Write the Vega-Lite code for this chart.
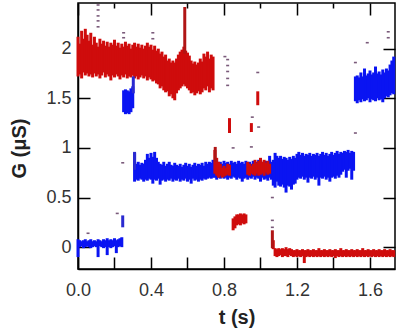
{
"$schema": "https://vega.github.io/schema/vega-lite/v6.json",
"width": 317, "height": 266,
"autosize": {"type": "none"},
"padding": {"left": 78, "top": 3, "right": 5, "bottom": 64},
"config": {"view": {"stroke": "black", "strokeWidth": 1.5}},
"data": {"values": [
    {"s":"blue","t":0.00,"lo":-0.10,"hi":0.08},{"s":"blue","t":0.01,"lo":0.00,"hi":0.07},{"s":"blue","t":0.02,"lo":0.01,"hi":0.06},{"s":"blue","t":0.03,"lo":-0.01,"hi":0.07},{"s":"blue","t":0.04,"lo":0.00,"hi":0.08},
    {"s":"blue","t":0.05,"lo":0.01,"hi":0.06},{"s":"blue","t":0.06,"lo":0.00,"hi":0.07},{"s":"blue","t":0.07,"lo":-0.01,"hi":0.08},{"s":"blue","t":0.08,"lo":0.00,"hi":0.06},{"s":"blue","t":0.09,"lo":0.01,"hi":0.07},
    {"s":"blue","t":0.10,"lo":0.00,"hi":0.06},{"s":"blue","t":0.11,"lo":-0.10,"hi":0.08},{"s":"blue","t":0.12,"lo":0.01,"hi":0.07},{"s":"blue","t":0.13,"lo":0.00,"hi":0.06},{"s":"blue","t":0.14,"lo":-0.01,"hi":0.08},
    {"s":"blue","t":0.15,"lo":0.00,"hi":0.07},{"s":"blue","t":0.16,"lo":-0.08,"hi":0.09},{"s":"blue","t":0.17,"lo":0.00,"hi":0.07},{"s":"blue","t":0.18,"lo":-0.01,"hi":0.08},{"s":"blue","t":0.19,"lo":0.00,"hi":0.07},
    {"s":"blue","t":0.20,"lo":0.01,"hi":0.09},{"s":"blue","t":0.21,"lo":-0.06,"hi":0.07},{"s":"blue","t":0.22,"lo":0.00,"hi":0.08},{"s":"blue","t":0.23,"lo":0.01,"hi":0.09},{"s":"blue","t":0.24,"lo":0.00,"hi":0.10},
    {"s":"blue","t":0.25,"lo":1.36,"hi":1.58},{"s":"blue","t":0.26,"lo":1.34,"hi":1.59},{"s":"blue","t":0.27,"lo":1.35,"hi":1.58},{"s":"blue","t":0.28,"lo":1.34,"hi":1.57},{"s":"blue","t":0.29,"lo":1.36,"hi":1.60},{"s":"blue","t":0.30,"lo":1.40,"hi":1.62},
    {"s":"blue","t":0.31,"lo":0.66,"hi":0.95},{"s":"blue","t":0.32,"lo":0.68,"hi":0.84},{"s":"blue","t":0.33,"lo":0.67,"hi":0.86},{"s":"blue","t":0.34,"lo":0.69,"hi":0.83},{"s":"blue","t":0.35,"lo":0.68,"hi":0.85},
    {"s":"blue","t":0.36,"lo":0.66,"hi":0.84},{"s":"blue","t":0.37,"lo":0.68,"hi":0.88},{"s":"blue","t":0.38,"lo":0.67,"hi":0.94},{"s":"blue","t":0.39,"lo":0.69,"hi":0.90},{"s":"blue","t":0.40,"lo":0.68,"hi":0.95},
    {"s":"blue","t":0.41,"lo":0.64,"hi":0.91},{"s":"blue","t":0.42,"lo":0.68,"hi":0.96},{"s":"blue","t":0.43,"lo":0.67,"hi":0.90},{"s":"blue","t":0.44,"lo":0.69,"hi":0.86},{"s":"blue","t":0.45,"lo":0.63,"hi":0.84},
    {"s":"blue","t":0.46,"lo":0.67,"hi":0.83},{"s":"blue","t":0.47,"lo":0.68,"hi":0.86},{"s":"blue","t":0.48,"lo":0.66,"hi":0.82},{"s":"blue","t":0.49,"lo":0.68,"hi":0.84},{"s":"blue","t":0.50,"lo":0.67,"hi":0.86},
    {"s":"blue","t":0.51,"lo":0.69,"hi":0.83},{"s":"blue","t":0.52,"lo":0.66,"hi":0.82},{"s":"blue","t":0.53,"lo":0.68,"hi":0.85},{"s":"blue","t":0.54,"lo":0.67,"hi":0.83},{"s":"blue","t":0.55,"lo":0.69,"hi":0.82},
    {"s":"blue","t":0.56,"lo":0.66,"hi":0.84},{"s":"blue","t":0.57,"lo":0.68,"hi":0.81},{"s":"blue","t":0.58,"lo":0.67,"hi":0.83},{"s":"blue","t":0.59,"lo":0.69,"hi":0.85},{"s":"blue","t":0.60,"lo":0.66,"hi":0.82},
    {"s":"blue","t":0.61,"lo":0.68,"hi":0.84},{"s":"blue","t":0.62,"lo":0.64,"hi":0.81},{"s":"blue","t":0.63,"lo":0.69,"hi":0.83},{"s":"blue","t":0.64,"lo":0.67,"hi":0.85},{"s":"blue","t":0.65,"lo":0.68,"hi":0.82},
    {"s":"blue","t":0.66,"lo":0.66,"hi":0.84},{"s":"blue","t":0.67,"lo":0.68,"hi":0.83},{"s":"blue","t":0.68,"lo":0.67,"hi":0.85},{"s":"blue","t":0.69,"lo":0.69,"hi":0.82},{"s":"blue","t":0.70,"lo":0.68,"hi":0.86},
    {"s":"blue","t":0.71,"lo":0.69,"hi":0.84},{"s":"blue","t":0.72,"lo":0.70,"hi":0.86},{"s":"blue","t":0.73,"lo":0.69,"hi":0.85},{"s":"blue","t":0.74,"lo":0.70,"hi":0.88},{"s":"blue","t":0.75,"lo":0.70,"hi":0.86},
    {"s":"blue","t":0.76,"lo":0.68,"hi":0.87},{"s":"blue","t":0.77,"lo":0.70,"hi":0.85},{"s":"blue","t":0.78,"lo":0.69,"hi":0.86},{"s":"blue","t":0.79,"lo":0.71,"hi":0.84},{"s":"blue","t":0.80,"lo":0.69,"hi":0.87},
    {"s":"blue","t":0.81,"lo":0.70,"hi":0.85},{"s":"blue","t":0.82,"lo":0.68,"hi":0.86},{"s":"blue","t":0.83,"lo":0.70,"hi":0.84},{"s":"blue","t":0.84,"lo":0.69,"hi":0.87},{"s":"blue","t":0.85,"lo":0.71,"hi":0.85},
    {"s":"blue","t":0.86,"lo":0.70,"hi":0.86},{"s":"blue","t":0.87,"lo":0.68,"hi":0.84},{"s":"blue","t":0.88,"lo":0.70,"hi":0.87},{"s":"blue","t":0.89,"lo":0.69,"hi":0.85},{"s":"blue","t":0.90,"lo":0.66,"hi":0.86},
    {"s":"blue","t":0.91,"lo":0.69,"hi":0.84},{"s":"blue","t":0.92,"lo":0.70,"hi":0.87},{"s":"blue","t":0.93,"lo":0.68,"hi":0.85},{"s":"blue","t":0.94,"lo":0.70,"hi":0.86},{"s":"blue","t":0.95,"lo":0.69,"hi":0.84},
    {"s":"blue","t":0.96,"lo":0.71,"hi":0.87},{"s":"blue","t":0.97,"lo":0.68,"hi":0.85},{"s":"blue","t":0.98,"lo":0.70,"hi":0.86},{"s":"blue","t":0.99,"lo":0.69,"hi":0.88},{"s":"blue","t":1.00,"lo":0.66,"hi":0.85},
    {"s":"blue","t":1.01,"lo":0.70,"hi":0.86},{"s":"blue","t":1.02,"lo":0.68,"hi":0.84},{"s":"blue","t":1.03,"lo":0.69,"hi":0.87},{"s":"blue","t":1.04,"lo":0.67,"hi":0.85},{"s":"blue","t":1.05,"lo":0.70,"hi":0.92},
    {"s":"blue","t":1.06,"lo":0.68,"hi":0.86},{"s":"blue","t":1.07,"lo":0.62,"hi":0.88},{"s":"blue","t":1.08,"lo":0.60,"hi":0.95},{"s":"blue","t":1.09,"lo":0.66,"hi":0.92},{"s":"blue","t":1.10,"lo":0.62,"hi":0.90},
    {"s":"blue","t":1.11,"lo":0.61,"hi":0.92},{"s":"blue","t":1.12,"lo":0.63,"hi":0.89},{"s":"blue","t":1.13,"lo":0.60,"hi":0.91},{"s":"blue","t":1.14,"lo":0.55,"hi":0.90},{"s":"blue","t":1.15,"lo":0.62,"hi":0.88},
    {"s":"blue","t":1.16,"lo":0.61,"hi":0.91},{"s":"blue","t":1.17,"lo":0.58,"hi":0.89},{"s":"blue","t":1.18,"lo":0.63,"hi":0.92},{"s":"blue","t":1.19,"lo":0.64,"hi":0.90},{"s":"blue","t":1.20,"lo":0.68,"hi":0.94},
    {"s":"blue","t":1.21,"lo":0.70,"hi":0.96},{"s":"blue","t":1.22,"lo":0.69,"hi":0.93},{"s":"blue","t":1.23,"lo":0.71,"hi":0.95},{"s":"blue","t":1.24,"lo":0.68,"hi":0.92},{"s":"blue","t":1.25,"lo":0.70,"hi":0.94},
    {"s":"blue","t":1.26,"lo":0.65,"hi":0.93},{"s":"blue","t":1.27,"lo":0.70,"hi":0.95},{"s":"blue","t":1.28,"lo":0.69,"hi":0.92},{"s":"blue","t":1.29,"lo":0.71,"hi":0.94},{"s":"blue","t":1.30,"lo":0.68,"hi":0.93},
    {"s":"blue","t":1.31,"lo":0.70,"hi":0.95},{"s":"blue","t":1.32,"lo":0.62,"hi":0.92},{"s":"blue","t":1.33,"lo":0.70,"hi":0.94},{"s":"blue","t":1.34,"lo":0.69,"hi":0.96},{"s":"blue","t":1.35,"lo":0.71,"hi":0.93},
    {"s":"blue","t":1.36,"lo":0.68,"hi":0.95},{"s":"blue","t":1.37,"lo":0.70,"hi":0.92},{"s":"blue","t":1.38,"lo":0.66,"hi":0.94},{"s":"blue","t":1.39,"lo":0.70,"hi":0.96},{"s":"blue","t":1.40,"lo":0.71,"hi":0.93},
    {"s":"blue","t":1.41,"lo":0.69,"hi":0.95},{"s":"blue","t":1.42,"lo":0.72,"hi":0.97},{"s":"blue","t":1.43,"lo":0.70,"hi":0.94},{"s":"blue","t":1.44,"lo":0.73,"hi":0.96},{"s":"blue","t":1.45,"lo":0.76,"hi":0.95},
    {"s":"blue","t":1.46,"lo":0.78,"hi":0.97},{"s":"blue","t":1.47,"lo":0.70,"hi":0.96},{"s":"blue","t":1.48,"lo":0.77,"hi":0.98},{"s":"blue","t":1.49,"lo":0.79,"hi":0.95},{"s":"blue","t":1.50,"lo":0.68,"hi":0.97},
    {"s":"blue","t":1.51,"lo":0.77,"hi":0.96},
    {"s":"blue","t":1.52,"lo":1.47,"hi":1.72},{"s":"blue","t":1.53,"lo":1.45,"hi":1.73},{"s":"blue","t":1.54,"lo":1.48,"hi":1.71},{"s":"blue","t":1.55,"lo":1.46,"hi":1.76},{"s":"blue","t":1.56,"lo":1.49,"hi":1.72},
    {"s":"blue","t":1.57,"lo":1.47,"hi":1.80},{"s":"blue","t":1.58,"lo":1.48,"hi":1.73},{"s":"blue","t":1.59,"lo":1.50,"hi":1.75},{"s":"blue","t":1.60,"lo":1.46,"hi":1.78},{"s":"blue","t":1.61,"lo":1.49,"hi":1.74},
    {"s":"blue","t":1.62,"lo":1.48,"hi":1.76},{"s":"blue","t":1.63,"lo":1.47,"hi":1.82},{"s":"blue","t":1.64,"lo":1.50,"hi":1.75},{"s":"blue","t":1.65,"lo":1.48,"hi":1.77},{"s":"blue","t":1.66,"lo":1.49,"hi":1.74},
    {"s":"blue","t":1.67,"lo":1.46,"hi":1.79},{"s":"blue","t":1.68,"lo":1.50,"hi":1.76},{"s":"blue","t":1.69,"lo":1.52,"hi":1.80},{"s":"blue","t":1.70,"lo":1.51,"hi":1.78},{"s":"blue","t":1.71,"lo":1.53,"hi":1.84},
    {"s":"blue","t":1.72,"lo":1.55,"hi":1.88},{"s":"blue","t":1.73,"lo":1.54,"hi":1.92},
    {"s":"red","t":0.00,"lo":1.72,"hi":2.12},{"s":"red","t":0.01,"lo":1.74,"hi":2.05},{"s":"red","t":0.02,"lo":1.70,"hi":2.18},{"s":"red","t":0.03,"lo":1.76,"hi":2.10},{"s":"red","t":0.04,"lo":1.73,"hi":2.20},
    {"s":"red","t":0.05,"lo":1.75,"hi":2.14},{"s":"red","t":0.06,"lo":1.72,"hi":2.08},{"s":"red","t":0.07,"lo":1.74,"hi":2.16},{"s":"red","t":0.08,"lo":1.71,"hi":2.04},{"s":"red","t":0.09,"lo":1.75,"hi":2.12},
    {"s":"red","t":0.10,"lo":1.72,"hi":2.06},{"s":"red","t":0.11,"lo":1.74,"hi":2.02},{"s":"red","t":0.12,"lo":1.70,"hi":2.10},{"s":"red","t":0.13,"lo":1.73,"hi":2.05},{"s":"red","t":0.14,"lo":1.76,"hi":2.08},
    {"s":"red","t":0.15,"lo":1.71,"hi":2.03},{"s":"red","t":0.16,"lo":1.74,"hi":2.07},{"s":"red","t":0.17,"lo":1.72,"hi":2.02},{"s":"red","t":0.18,"lo":1.68,"hi":2.06},{"s":"red","t":0.19,"lo":1.73,"hi":2.04},
    {"s":"red","t":0.20,"lo":1.71,"hi":2.09},{"s":"red","t":0.21,"lo":1.74,"hi":2.03},{"s":"red","t":0.22,"lo":1.72,"hi":2.06},{"s":"red","t":0.23,"lo":1.69,"hi":2.01},{"s":"red","t":0.24,"lo":1.73,"hi":2.05},
    {"s":"red","t":0.25,"lo":1.71,"hi":2.02},{"s":"red","t":0.26,"lo":1.74,"hi":2.07},{"s":"red","t":0.27,"lo":1.70,"hi":2.03},{"s":"red","t":0.28,"lo":1.72,"hi":2.05},{"s":"red","t":0.29,"lo":1.71,"hi":2.00},
    {"s":"red","t":0.30,"lo":1.73,"hi":2.04},{"s":"red","t":0.31,"lo":1.70,"hi":2.06},{"s":"red","t":0.32,"lo":1.72,"hi":2.02},{"s":"red","t":0.33,"lo":1.69,"hi":2.05},{"s":"red","t":0.34,"lo":1.71,"hi":2.01},
    {"s":"red","t":0.35,"lo":1.73,"hi":2.04},{"s":"red","t":0.36,"lo":1.70,"hi":2.00},{"s":"red","t":0.37,"lo":1.72,"hi":2.03},{"s":"red","t":0.38,"lo":1.68,"hi":2.06},{"s":"red","t":0.39,"lo":1.71,"hi":2.02},
    {"s":"red","t":0.40,"lo":1.69,"hi":2.04},{"s":"red","t":0.41,"lo":1.67,"hi":1.99},{"s":"red","t":0.42,"lo":1.68,"hi":2.03},{"s":"red","t":0.43,"lo":1.65,"hi":1.98},{"s":"red","t":0.44,"lo":1.64,"hi":2.00},
    {"s":"red","t":0.45,"lo":1.60,"hi":1.95},{"s":"red","t":0.46,"lo":1.62,"hi":1.97},{"s":"red","t":0.47,"lo":1.58,"hi":1.92},{"s":"red","t":0.48,"lo":1.56,"hi":1.94},{"s":"red","t":0.49,"lo":1.57,"hi":1.88},
    {"s":"red","t":0.50,"lo":1.52,"hi":1.90},{"s":"red","t":0.51,"lo":1.54,"hi":1.86},{"s":"red","t":0.52,"lo":1.50,"hi":1.88},{"s":"red","t":0.53,"lo":1.48,"hi":1.86},{"s":"red","t":0.54,"lo":1.55,"hi":1.90},
    {"s":"red","t":0.55,"lo":1.58,"hi":1.94},{"s":"red","t":0.56,"lo":1.60,"hi":1.97},{"s":"red","t":0.57,"lo":1.62,"hi":1.99},{"s":"red","t":0.58,"lo":1.64,"hi":2.02},{"s":"red","t":0.59,"lo":1.62,"hi":1.98},
    {"s":"red","t":0.60,"lo":1.60,"hi":1.96},{"s":"red","t":0.61,"lo":1.58,"hi":1.93},{"s":"red","t":0.62,"lo":1.55,"hi":1.88},{"s":"red","t":0.63,"lo":1.56,"hi":1.85},{"s":"red","t":0.64,"lo":1.53,"hi":1.87},
    {"s":"red","t":0.65,"lo":1.55,"hi":1.84},{"s":"red","t":0.66,"lo":1.57,"hi":1.86},{"s":"red","t":0.67,"lo":1.54,"hi":1.90},{"s":"red","t":0.68,"lo":1.56,"hi":1.87},{"s":"red","t":0.69,"lo":1.60,"hi":1.95},
    {"s":"red","t":0.70,"lo":1.58,"hi":1.92},{"s":"red","t":0.71,"lo":1.62,"hi":1.97},{"s":"red","t":0.72,"lo":1.56,"hi":1.90},{"s":"red","t":0.73,"lo":1.60,"hi":1.94},{"s":"red","t":0.74,"lo":1.58,"hi":1.92},
    {"s":"red","t":0.75,"lo":0.74,"hi":0.98},{"s":"red","t":0.76,"lo":0.72,"hi":0.90},{"s":"red","t":0.77,"lo":0.70,"hi":0.86},{"s":"red","t":0.78,"lo":0.72,"hi":0.84},{"s":"red","t":0.79,"lo":0.70,"hi":0.80},
    {"s":"red","t":0.80,"lo":0.71,"hi":0.82},{"s":"red","t":0.81,"lo":0.72,"hi":0.80},{"s":"red","t":0.82,"lo":0.73,"hi":0.84},{"s":"red","t":0.83,"lo":0.72,"hi":0.83},
    {"s":"red","t":0.83,"lo":1.15,"hi":1.30},{"s":"red","t":0.95,"lo":1.16,"hi":1.25},{"s":"red","t":0.985,"lo":1.43,"hi":1.57},
    {"s":"red","t":0.85,"lo":0.17,"hi":0.29},{"s":"red","t":0.86,"lo":0.19,"hi":0.31},{"s":"red","t":0.87,"lo":0.22,"hi":0.33},{"s":"red","t":0.88,"lo":0.23,"hi":0.33},{"s":"red","t":0.89,"lo":0.22,"hi":0.34},
    {"s":"red","t":0.90,"lo":0.24,"hi":0.33},{"s":"red","t":0.91,"lo":0.23,"hi":0.34},{"s":"red","t":0.92,"lo":0.24,"hi":0.33},
    {"s":"red","t":0.93,"lo":0.73,"hi":0.86},{"s":"red","t":0.94,"lo":0.72,"hi":0.84},{"s":"red","t":0.95,"lo":0.74,"hi":0.82},{"s":"red","t":0.96,"lo":0.73,"hi":0.84},{"s":"red","t":0.97,"lo":0.72,"hi":0.88},
    {"s":"red","t":0.98,"lo":0.74,"hi":0.85},{"s":"red","t":0.99,"lo":0.72,"hi":0.87},{"s":"red","t":1.00,"lo":0.73,"hi":0.90},{"s":"red","t":1.01,"lo":0.74,"hi":0.86},{"s":"red","t":1.02,"lo":0.72,"hi":0.88},
    {"s":"red","t":1.03,"lo":0.75,"hi":0.85},{"s":"red","t":1.04,"lo":0.73,"hi":0.87},{"s":"red","t":1.05,"lo":0.74,"hi":0.84},
    {"s":"red","t":1.07,"lo":-0.02,"hi":0.07},{"s":"red","t":1.08,"lo":-0.09,"hi":-0.01},{"s":"red","t":1.09,"lo":-0.10,"hi":-0.02},{"s":"red","t":1.10,"lo":-0.09,"hi":-0.01},{"s":"red","t":1.11,"lo":-0.08,"hi":-0.02},
    {"s":"red","t":1.12,"lo":-0.10,"hi":-0.01},{"s":"red","t":1.13,"lo":-0.09,"hi":-0.02},{"s":"red","t":1.14,"lo":-0.09,"hi":0.00},{"s":"red","t":1.15,"lo":-0.10,"hi":-0.02},{"s":"red","t":1.16,"lo":-0.08,"hi":-0.01},
    {"s":"red","t":1.17,"lo":-0.09,"hi":-0.02},{"s":"red","t":1.18,"lo":-0.10,"hi":-0.03},{"s":"red","t":1.19,"lo":-0.09,"hi":-0.03},{"s":"red","t":1.20,"lo":-0.10,"hi":-0.02},{"s":"red","t":1.21,"lo":-0.09,"hi":-0.03},
    {"s":"red","t":1.22,"lo":-0.10,"hi":-0.03},{"s":"red","t":1.23,"lo":-0.09,"hi":-0.02},{"s":"red","t":1.24,"lo":-0.16,"hi":-0.03},{"s":"red","t":1.25,"lo":-0.10,"hi":-0.03},{"s":"red","t":1.26,"lo":-0.09,"hi":-0.02},
    {"s":"red","t":1.27,"lo":-0.10,"hi":-0.03},{"s":"red","t":1.28,"lo":-0.09,"hi":-0.03},{"s":"red","t":1.29,"lo":-0.10,"hi":-0.02},{"s":"red","t":1.30,"lo":-0.09,"hi":-0.03},{"s":"red","t":1.31,"lo":-0.10,"hi":-0.03},
    {"s":"red","t":1.32,"lo":-0.09,"hi":-0.01},{"s":"red","t":1.33,"lo":-0.10,"hi":-0.03},{"s":"red","t":1.34,"lo":-0.09,"hi":-0.03},{"s":"red","t":1.35,"lo":-0.10,"hi":-0.02},{"s":"red","t":1.36,"lo":-0.09,"hi":-0.03},
    {"s":"red","t":1.37,"lo":-0.10,"hi":-0.03},{"s":"red","t":1.38,"lo":-0.09,"hi":-0.02},{"s":"red","t":1.39,"lo":-0.10,"hi":-0.03},{"s":"red","t":1.40,"lo":-0.09,"hi":-0.03},{"s":"red","t":1.41,"lo":-0.11,"hi":-0.02},
    {"s":"red","t":1.42,"lo":-0.09,"hi":-0.03},{"s":"red","t":1.43,"lo":-0.10,"hi":-0.03},{"s":"red","t":1.44,"lo":-0.09,"hi":-0.01},{"s":"red","t":1.45,"lo":-0.10,"hi":-0.03},{"s":"red","t":1.46,"lo":-0.09,"hi":-0.03},
    {"s":"red","t":1.47,"lo":-0.10,"hi":-0.02},{"s":"red","t":1.48,"lo":-0.09,"hi":-0.03},{"s":"red","t":1.49,"lo":-0.10,"hi":-0.03},{"s":"red","t":1.50,"lo":-0.09,"hi":-0.02},{"s":"red","t":1.51,"lo":-0.10,"hi":-0.03},
    {"s":"red","t":1.52,"lo":-0.09,"hi":-0.03},{"s":"red","t":1.53,"lo":-0.10,"hi":-0.02},{"s":"red","t":1.54,"lo":-0.09,"hi":-0.03},{"s":"red","t":1.55,"lo":-0.10,"hi":-0.03},{"s":"red","t":1.56,"lo":-0.09,"hi":-0.01},
    {"s":"red","t":1.57,"lo":-0.10,"hi":-0.03},{"s":"red","t":1.58,"lo":-0.09,"hi":-0.03},{"s":"red","t":1.59,"lo":-0.10,"hi":-0.02},{"s":"red","t":1.60,"lo":-0.09,"hi":-0.03},{"s":"red","t":1.61,"lo":-0.10,"hi":-0.03},
    {"s":"red","t":1.62,"lo":-0.09,"hi":-0.02},{"s":"red","t":1.63,"lo":-0.10,"hi":-0.03},{"s":"red","t":1.64,"lo":-0.09,"hi":-0.03},{"s":"red","t":1.65,"lo":-0.10,"hi":-0.02},{"s":"red","t":1.66,"lo":-0.09,"hi":-0.03},
    {"s":"red","t":1.67,"lo":-0.10,"hi":-0.03},{"s":"red","t":1.68,"lo":-0.09,"hi":-0.02},{"s":"red","t":1.69,"lo":-0.10,"hi":-0.03},{"s":"red","t":1.70,"lo":-0.09,"hi":-0.03},{"s":"red","t":1.71,"lo":-0.10,"hi":-0.02},
    {"s":"red","t":1.72,"lo":-0.09,"hi":-0.03},{"s":"red","t":1.73,"lo":-0.10,"hi":-0.03},
    {"s":"red spike","t":0.585,"lo":1.95,"hi":2.42},{"s":"red spike","t":0.752,"lo":0.86,"hi":1.01},{"s":"red spike","t":1.065,"lo":-0.01,"hi":0.17},
    {"s":"blue spike","t":0.245,"lo":0.20,"hi":0.32},{"s":"blue spike","t":0.303,"lo":1.55,"hi":1.72},{"s":"blue spike","t":0.31,"lo":0.78,"hi":0.96},
    {"s":"dot","t":0.11,"lo":2.432,"hi":2.448},{"s":"dot","t":0.11,"lo":2.382,"hi":2.398},{"s":"dot","t":0.11,"lo":2.322,"hi":2.338},{"s":"dot","t":0.11,"lo":2.272,"hi":2.288},{"s":"dot","t":0.11,"lo":2.212,"hi":2.228},
    {"s":"dot","t":0.25,"lo":2.152,"hi":2.168},{"s":"dot","t":0.25,"lo":2.102,"hi":2.118},{"s":"dot","t":0.41,"lo":2.152,"hi":2.168},{"s":"dot","t":0.41,"lo":2.092,"hi":2.108},
    {"s":"dot","t":0.055,"lo":0.132,"hi":0.148},{"s":"dot","t":0.215,"lo":0.332,"hi":0.348},{"s":"dot","t":0.245,"lo":0.842,"hi":0.858},
    {"s":"dot","t":0.805,"lo":1.912,"hi":1.928},{"s":"dot","t":0.82,"lo":1.882,"hi":1.898},{"s":"dot","t":0.82,"lo":1.822,"hi":1.838},{"s":"dot","t":0.82,"lo":1.762,"hi":1.778},{"s":"dot","t":0.82,"lo":1.692,"hi":1.708},{"s":"dot","t":0.82,"lo":1.622,"hi":1.638},
    {"s":"dot","t":0.985,"lo":1.752,"hi":1.768},{"s":"dot","t":0.85,"lo":0.992,"hi":1.008},{"s":"dot","t":0.95,"lo":1.002,"hi":1.018},{"s":"dot","t":0.955,"lo":1.302,"hi":1.318},{"s":"dot","t":0.99,"lo":1.202,"hi":1.218},
    {"s":"dot","t":1.065,"lo":0.492,"hi":0.508},{"s":"dot","t":1.065,"lo":0.262,"hi":0.278},{"s":"dot","t":1.065,"lo":0.192,"hi":0.208},
    {"s":"dot","t":1.52,"lo":1.852,"hi":1.868},{"s":"dot","t":1.585,"lo":2.052,"hi":2.068},{"s":"dot","t":1.7,"lo":2.162,"hi":2.178},{"s":"dot","t":1.7,"lo":2.102,"hi":2.118},{"s":"dot","t":1.52,"lo":1.142,"hi":1.158}
]},
"mark": {"type": "rule"},
"encoding": {
  "x": {"field": "t", "type": "quantitative",
    "scale": {"domain": [0, 1.737], "nice": false, "zero": false},
    "axis": {"title": "t (s)", "titleY": 54, "titleBaseline": "alphabetic",
      "titleFont": "Liberation Sans", "titleFontSize": 20, "titleFontWeight": "bold", "titleColor": "#222",
      "values": [0,0.2,0.4,0.6,0.8,1.0,1.2,1.4,1.6],
      "labelExpr": "abs(datum.value/0.4 - round(datum.value/0.4)) < 0.01 ? format(datum.value, '.1f') : ''",
      "grid": true, "gridColor": "black", "gridWidth": 1.5, "gridOpacity": 1,
      "gridDash": {"condition": {"test": "abs(datum.value/0.4 - round(datum.value/0.4)) < 0.01", "value": [12, 242, 12, 1000]}, "value": [5, 249, 12, 1000]},
      "labelFont": "Liberation Sans", "labelFontSize": 18, "labelColor": "#333",
      "labelOverlap": false, "labelFlush": false, "labelBound": false,
      "domainColor": "black", "domainWidth": 1.5,
      "ticks": true, "tickSize": -12, "tickColor": "#000000", "tickWidth": 1.5, "tickOpacity": 0, "labelPadding": 24}},
  "y": {"field": "lo", "type": "quantitative",
    "scale": {"domain": [-0.22, 2.46], "nice": false, "zero": false},
    "axis": {"title": "G (μS)", "titleX": -53, "titleY": 145, "titleBaseline": "alphabetic",
      "titleFont": "Liberation Sans", "titleFontSize": 20, "titleFontWeight": "bold", "titleColor": "#222",
      "values": [0,0.5,1,1.5,2], "format": "~g",
      "grid": true, "gridColor": "black", "gridWidth": 1.5, "gridOpacity": 1, "gridDash": [12, 293, 12, 1000],
      "labelFont": "Liberation Sans", "labelFontSize": 18, "labelColor": "#333", "labelOverlap": false,
      "domainColor": "black", "domainWidth": 1.5,
      "ticks": true, "tickSize": -12, "tickColor": "#000000", "tickWidth": 1.5, "tickOpacity": 0, "labelPadding": 19}},
  "y2": {"field": "hi"},
  "color": {"field": "s", "type": "nominal", "legend": null,
    "scale": {"domain": ["blue","red","blue spike","red spike","dot"], "range": ["#0a14f2","#cf0c0c","#2a2ad0","#b01515","#7a5a7a"]}},
  "strokeWidth": {"field": "s", "type": "nominal", "legend": null,
    "scale": {"domain": ["blue","red","blue spike","red spike","dot"], "range": [3,3,1.2,1.2,2]}}
}
}
